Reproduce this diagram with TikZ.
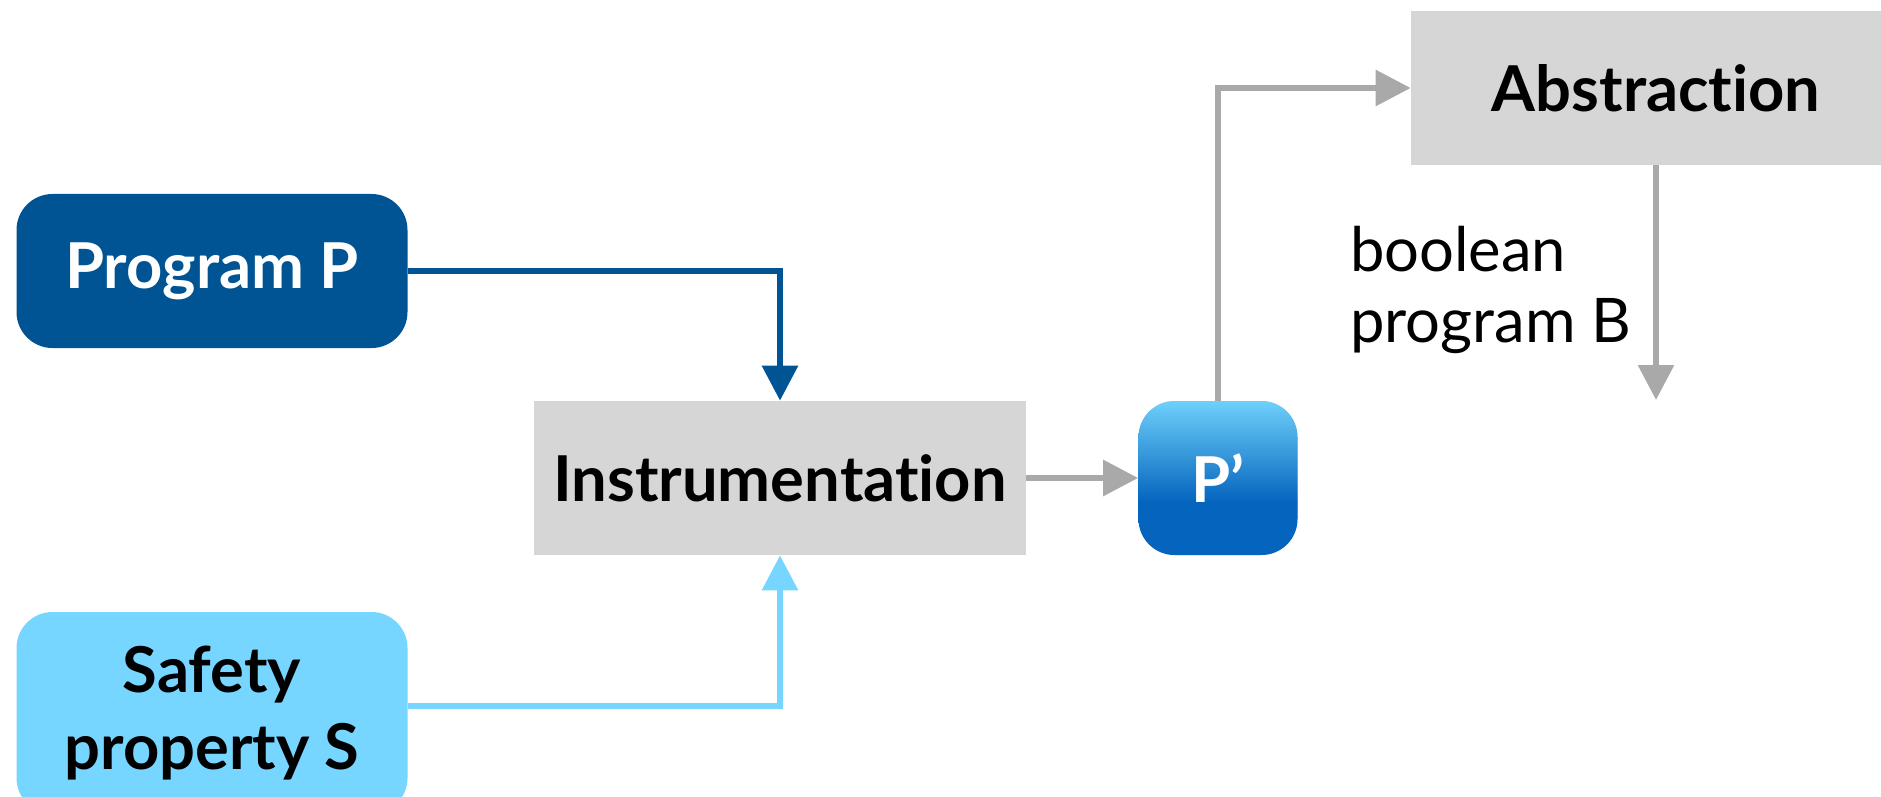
\documentclass[tikz,border=0pt]{standalone}
\usepackage{fontspec}
\setmainfont[Ligatures=NoCommon]{Lato}
\usepackage{tikz}
\usetikzlibrary{arrows.meta}
\definecolor{progblue}{RGB}{0,84,147}
\definecolor{propblue}{RGB}{118,214,255}
\definecolor{boxgrey}{RGB}{214,214,214}
\definecolor{flowgrey}{RGB}{169,169,169}
\definecolor{pptop}{RGB}{110,208,250}
\definecolor{ppbot}{RGB}{4,100,190}
% light at the top, solid dark over the lower third
\pgfdeclareverticalshading{ppshade}{100bp}{color(0bp)=(ppbot); color(42bp)=(ppbot); color(75bp)=(pptop); color(100bp)=(pptop)}

\begin{document}
\begin{tikzpicture}[input/.style={rectangle,rounded corners=0.72cm,minimum width=7.82cm,align=center,font=\bfseries\fontsize{36}{44}\selectfont},stage/.style={rectangle,fill=boxgrey,minimum height=3.08cm,font=\bfseries\fontsize{36}{44}\selectfont},flow/.style={line width=0.12cm,-{Triangle[length=0.7cm,width=0.7cm]}}]
\useasboundingbox (0,0) rectangle (37.62,-15.94);
\node[input,fill=progblue,text=white,minimum height=3.08cm] (prog) at (4.24,-5.42) {Program P};
\node[input,fill=propblue,minimum height=4.04cm] (safety) at (4.24,-14.26) {Safety\\property S};
\node[stage,minimum width=9.84cm] (instr) at (15.6,-9.56) {Instrumentation};
\node[stage,rounded corners=0.72cm,shading=ppshade,text=white,minimum width=3.18cm] (pprime) at (24.36,-9.56) {P’};
\node[stage,minimum width=9.8cm] (abstr) at (33.12,-1.76) {Abstraction};
\node[anchor=west,align=left,font=\fontsize{35}{40}\selectfont] (boolprog) at (26.88,-5.8) {boolean\\program B};
\coordinate (boolout) at (33.12,-8);
\draw[flow,progblue] (prog) -| (instr);
\draw[flow,propblue] ([yshift=0.14cm]safety.east) -| (instr);
\draw[flow,flowgrey] (instr) -- (pprime);
\draw[flow,flowgrey] (pprime) |- (abstr);
\draw[flow,flowgrey] (abstr) -- (boolout);
\end{tikzpicture}
\end{document}
